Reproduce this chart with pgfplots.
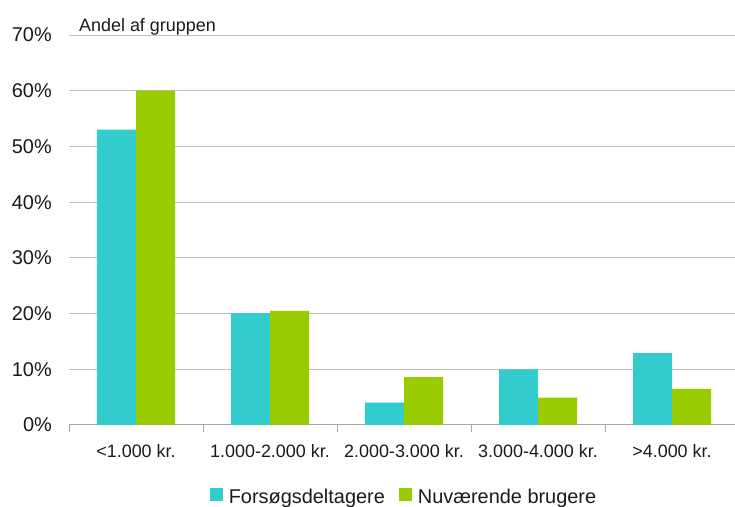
\documentclass[border=0pt]{standalone}
\usepackage{fontspec}
\setmainfont{Liberation Sans}
\usepackage{pgfplots}
\pgfplotsset{compat=1.18}
\definecolor{cy}{HTML}{33CCCC}
\definecolor{gr}{HTML}{99CC00}
\definecolor{gridc}{HTML}{BFBFBF}
\definecolor{axisc}{HTML}{A6A6A6}
\definecolor{txt}{HTML}{1A1A1A}
\begin{document}
\begin{tikzpicture}
\useasboundingbox (0,0) rectangle (735bp,507bp);
\begin{axis}[
  at={(69bp,82bp)}, anchor=south west,
  scale only axis, width=670bp, height=390bp,
  xmin=-0.5, xmax=4.5, ymin=0, ymax=70,
  ybar=0pt, bar width=39bp,
  axis x line*=bottom, axis y line*=left,
  axis line style={-},
  x axis line style={draw=axisc, line width=1bp},
  y axis line style={draw=none},
  ytick={0,10,...,70},
  yticklabel={\pgfmathprintnumber{\tick}\%},
  /pgf/number format/assume math mode=true,
  ymajorgrids, grid style={gridc, line width=1bp},
  major tick length=0pt,
  xtick={0,1,2,3,4},
  xticklabels={<1.000 kr., 1.000-2.000 kr., 2.000-3.000 kr., 3.000-4.000 kr., >4.000 kr.},
  minor xtick={-0.5,0.5,1.5,2.5,3.5,4.5},
  minor tick length=7bp,
  tick align=outside,
  every minor tick/.append style={axisc, line width=1bp},
  yticklabel style={font=\fontsize{20}{24}\selectfont, text=txt, anchor=east, inner sep=0pt, xshift=-17bp},
  xticklabel style={font=\fontsize{18}{22}\selectfont, text=txt, anchor=base, inner sep=0pt, yshift=-33bp},
  legend style={at={(0.5,-0.184)}, anchor=center, draw=none, fill=none,
    font=\fontsize{20}{24}\selectfont, text=txt, legend columns=2,
    /tikz/every odd column/.append style={column sep=4bp},
    /tikz/every even column/.append style={column sep=12bp},
    legend cell align=left},
  legend image code/.code={\fill[#1] (0bp,-4bp) rectangle (13bp,9bp);},
]
\addplot[fill=cy, draw=none] coordinates {(0,53) (1,20.1) (2,4.0) (3,10.0) (4,12.9)};
\addplot[fill=gr, draw=none] coordinates {(0,60) (1,20.5) (2,8.6) (3,4.9) (4,6.5)};
\legend{Forsøgsdeltagere, Nuværende brugere}
\end{axis}
\node[anchor=base west, inner sep=0pt, text=txt, font=\fontsize{18}{22}\selectfont] at (79bp,475bp) {Andel af gruppen};
\end{tikzpicture}
\end{document}
